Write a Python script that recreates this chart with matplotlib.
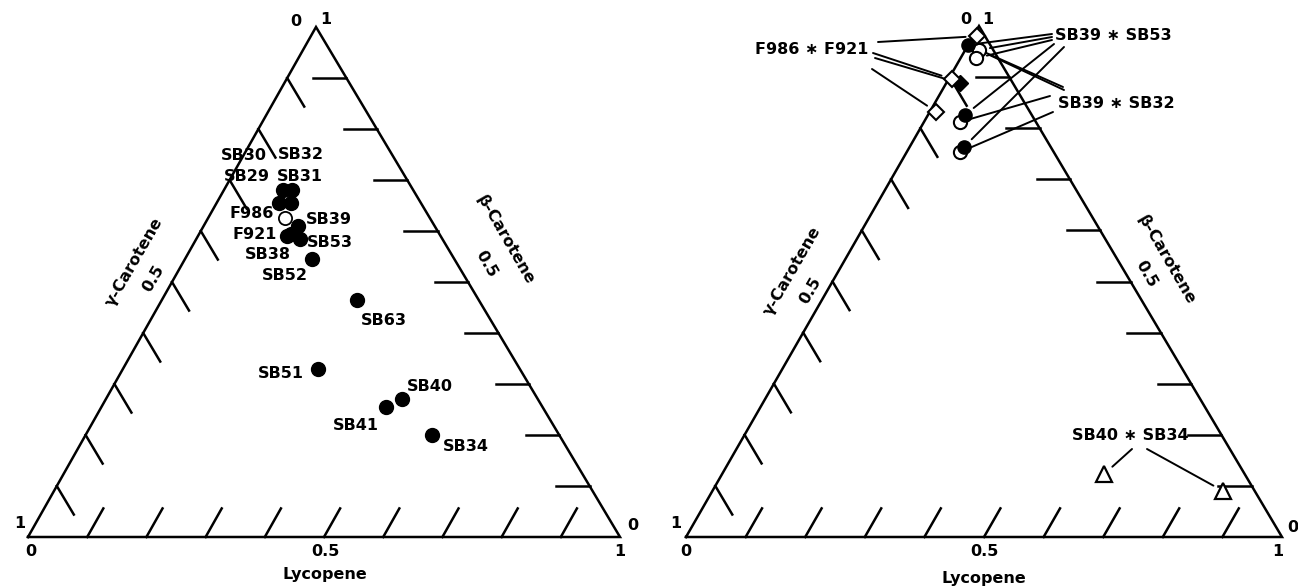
import matplotlib
matplotlib.use("Agg")
import matplotlib.pyplot as plt

W, H, DPI = 1298, 588, 100
FS = 11.5
LW_FRAME = 1.8
LW_LEAD = 1.4

# ---------------------------------------------------------------------------
# Left panel: carotenoid composition (fractions of total) for each strain
left_names = ["SB30", "SB32", "SB29", "SB31", "F986", "SB39", "SB38", "F921",
              "SB53", "SB52", "SB63", "SB51", "SB40", "SB41", "SB34"]
left_gamma = [0.22, 0.205, 0.24, 0.22, 0.245, 0.23, 0.25, 0.26,
              0.24, 0.24, 0.205, 0.34, 0.23, 0.265, 0.215]
left_lycopene = [0.10, 0.115, 0.105, 0.125, 0.13, 0.16, 0.155, 0.15,
                 0.175, 0.215, 0.33, 0.33, 0.50, 0.48, 0.585]
left_beta = [0.68, 0.68, 0.655, 0.655, 0.625, 0.61, 0.595, 0.59,
             0.585, 0.545, 0.465, 0.33, 0.27, 0.255, 0.20]
left_open = ["F986"]

# Right panel: compositions of the paired strains
r_dia_open_gamma = [0.014, 0.098, 0.157]
r_dia_open_lycopene = [0.006, 0.006, 0.011]
r_dia_open_beta = [0.98, 0.896, 0.832]

r_dia_fill_gamma = [0.089]
r_dia_fill_lycopene = [0.023]
r_dia_fill_beta = [0.888]

r_circ_fill_gamma = [0.037, 0.112, 0.146]
r_circ_fill_lycopene = [0.0, 0.062, 0.091]
r_circ_fill_beta = [0.963, 0.826, 0.763]

r_circ_open_gamma = [0.024, 0.037, 0.128, 0.158]
r_circ_open_lycopene = [0.023, 0.026, 0.060, 0.089]
r_circ_open_beta = [0.953, 0.937, 0.812, 0.753]

r_tri_gamma = [0.236, 0.053]
r_tri_lycopene = [0.641, 0.857]
r_tri_beta = [0.123, 0.090]

tick_values = [0.1, 0.2, 0.3, 0.4, 0.5, 0.6, 0.7, 0.8, 0.9]

# Label offsets (points) for the left-panel strain names
left_label_offsets = {
    "SB30": (-28, 25), "SB32": (6.5, 26), "SB29": (-23, 19), "SB31": (6.5, 19),
    "F986": (-24, 3.5), "SB39": (22, 4.5), "SB38": (-17, -15), "F921": (-23, 1.5),
    "SB53": (21.5, -3), "SB52": (-19.5, -12), "SB63": (19, -15),
    "SB51": (-27, -3.5), "SB40": (20, 9.5), "SB41": (-21.5, -13.5),
    "SB34": (24.5, -8.5),
}


def fig_frac(px, py):
    return px / W, 1 - py / H


fig = plt.figure(figsize=(W / DPI, H / DPI), dpi=DPI)
fig.patch.set_facecolor("white")


def make_panel(x0, x1, y_base, y_apex, x_apex):
    ax = fig.add_axes([x0 / W, (H - y_base) / H, (x1 - x0) / W, (y_base - y_apex) / H])
    ax.set_xlim(0, 1)
    ax.set_ylim(0, 1)
    ax.axis("off")
    ax.apex = (x_apex - x0) / (x1 - x0)
    return ax


def proj(ax, gamma, lyco, beta):
    tot = [g + l + b for g, l, b in zip(gamma, lyco, beta)]
    xs = [l / t + ax.apex * b / t for l, b, t in zip(lyco, beta, tot)]
    ys = [b / t for b, t in zip(beta, tot)]
    return xs, ys


def draw_frame(ax, tick_len=0.056):
    s = ax.apex
    ax.plot([0, 1, s, 0], [0, 0, 1, 0], color="k", lw=LW_FRAME,
            solid_joinstyle="miter", clip_on=False)
    for t in tick_values:
        # bottom (lycopene): lines of constant lycopene
        ax.plot([t, t + s * tick_len], [0, tick_len], color="k", lw=LW_FRAME, clip_on=False)
        # left (gamma-carotene): lines of constant gamma
        ax.plot([s * t, tick_len + s * (t - tick_len)], [t, t - tick_len],
                color="k", lw=LW_FRAME, clip_on=False)
        # right (beta-carotene): lines of constant beta
        xr = (1 - t) + s * t
        ax.plot([xr, xr - tick_len], [t, t], color="k", lw=LW_FRAME, clip_on=False)


def ftext(px, py, s, rot=0, **kw):
    x, y = fig_frac(px, py)
    fig.text(x, y, s, ha="center", va="center", fontsize=FS, fontweight="bold",
             rotation=rot, rotation_mode="anchor", **kw)


# ---------------------------- left panel ----------------------------------
axL = make_panel(28, 620, 537, 27, 316)
draw_frame(axL)

xs, ys = proj(axL, left_gamma, left_lycopene, left_beta)
for name, x, y in zip(left_names, xs, ys):
    if name in left_open:
        continue
    axL.plot(x, y, "o", ms=10, mfc="k", mec="k", clip_on=False, zorder=3)
for name, x, y in zip(left_names, xs, ys):
    if name in left_open:
        axL.plot(x, y, "o", ms=9.5, mfc="white", mec="k", mew=1.3, clip_on=False, zorder=4)
for name, x, y in zip(left_names, xs, ys):
    axL.annotate(name, (x, y), xytext=left_label_offsets[name], textcoords="offset points",
                 ha="center", va="center", fontsize=FS, fontweight="bold", zorder=5)

ftext(296, 21, "0")
ftext(326, 20, "1")
ftext(20, 523, "1")
ftext(31, 551, "0")
ftext(633, 526, "0")
ftext(620, 551, "1")
ftext(325, 551, "0.5")
ftext(325, 575, "Lycopene")
ftext(153, 278, "0.5", rot=60)
ftext(134, 262, "γ-Carotene", rot=60)
ftext(486, 264, "0.5", rot=-60)
ftext(505, 240, "β-Carotene", rot=-60)

# ---------------------------- right panel ---------------------------------
axR = make_panel(686, 1282, 537, 26, 979)
draw_frame(axR)

ocx, ocy = proj(axR, r_circ_open_gamma, r_circ_open_lycopene, r_circ_open_beta)
fcx, fcy = proj(axR, r_circ_fill_gamma, r_circ_fill_lycopene, r_circ_fill_beta)
fdx, fdy = proj(axR, r_dia_fill_gamma, r_dia_fill_lycopene, r_dia_fill_beta)
odx, ody = proj(axR, r_dia_open_gamma, r_dia_open_lycopene, r_dia_open_beta)
tx, ty = proj(axR, r_tri_gamma, r_tri_lycopene, r_tri_beta)

axR.plot(ocx, ocy, "o", ls="none", ms=9.5, mfc="white", mec="k", mew=1.5, clip_on=False, zorder=3)
axR.plot(fcx, fcy, "o", ls="none", ms=9.5, mfc="k", mec="k", clip_on=False, zorder=4)
axR.plot(fdx, fdy, "D", ls="none", ms=8.5, mfc="k", mec="k", clip_on=False, zorder=4)
axR.plot(odx, ody, "D", ls="none", ms=8.5, mfc="white", mec="k", mew=1.5, clip_on=False, zorder=5)
axR.plot(tx, ty, "^", ls="none", ms=12, mfc="white", mec="k", mew=1.6, clip_on=False, zorder=5)


def leader(ax, start_px, target):
    fx, fy = fig_frac(*start_px)
    ax.annotate("", xy=target, xycoords="data", xytext=(fx, fy), textcoords="figure fraction",
                arrowprops=dict(arrowstyle="-", lw=LW_LEAD, color="k", shrinkA=0, shrinkB=8),
                annotation_clip=False, zorder=2)


STAR = " \u2217 "
fig.text(*fig_frac(868, 49), "F986" + STAR + "F921", ha="right", va="center",
         fontsize=FS, fontweight="bold")
fig.text(*fig_frac(1055, 35), "SB39" + STAR + "SB53", ha="left", va="center",
         fontsize=FS, fontweight="bold")
fig.text(*fig_frac(1058, 103), "SB39" + STAR + "SB32", ha="left", va="center",
         fontsize=FS, fontweight="bold")
fig.text(*fig_frac(1072, 435), "SB40" + STAR + "SB34", ha="left", va="center",
         fontsize=FS, fontweight="bold")

# F986 * F921 -> diamonds
leader(axR, (878, 42), (odx[0], ody[0]))
leader(axR, (873, 53), (odx[1], ody[1]))
leader(axR, (875, 58), (fdx[0], fdy[0]))
leader(axR, (872, 69), (odx[2], ody[2]))
# SB39 * SB53
leader(axR, (1052, 34), (fcx[0], fcy[0]))
leader(axR, (1052, 37), (ocx[0], ocy[0]))
leader(axR, (1052, 40), (ocx[1], ocy[1]))
leader(axR, (1054, 44), (fcx[1], fcy[1]))
leader(axR, (1064, 47), (fcx[2], fcy[2]))
# SB39 * SB32
leader(axR, (1063, 87), (fcx[0], fcy[0]))
leader(axR, (1064, 90), (ocx[0], ocy[0]))
leader(axR, (1050, 96), (ocx[2], ocy[2]))
leader(axR, (1053, 112), (ocx[3], ocy[3]))
# SB40 * SB34 -> triangles
leader(axR, (1132, 449), (tx[0], ty[0]))
leader(axR, (1147, 449), (tx[1], ty[1]))

ftext(966, 20, "0")
ftext(988, 19, "1")
ftext(676, 524, "1")
ftext(686, 551, "0")
ftext(1293, 527, "0")
ftext(1278, 551, "1")
ftext(984, 551, "0.5")
ftext(984, 578, "Lycopene")
ftext(810, 290, "0.5", rot=60)
ftext(792, 271, "γ-Carotene", rot=60)
ftext(1146, 274, "0.5", rot=-60)
ftext(1166, 260, "β-Carotene", rot=-60)

fig.savefig("out.png", dpi=DPI, facecolor="white")
